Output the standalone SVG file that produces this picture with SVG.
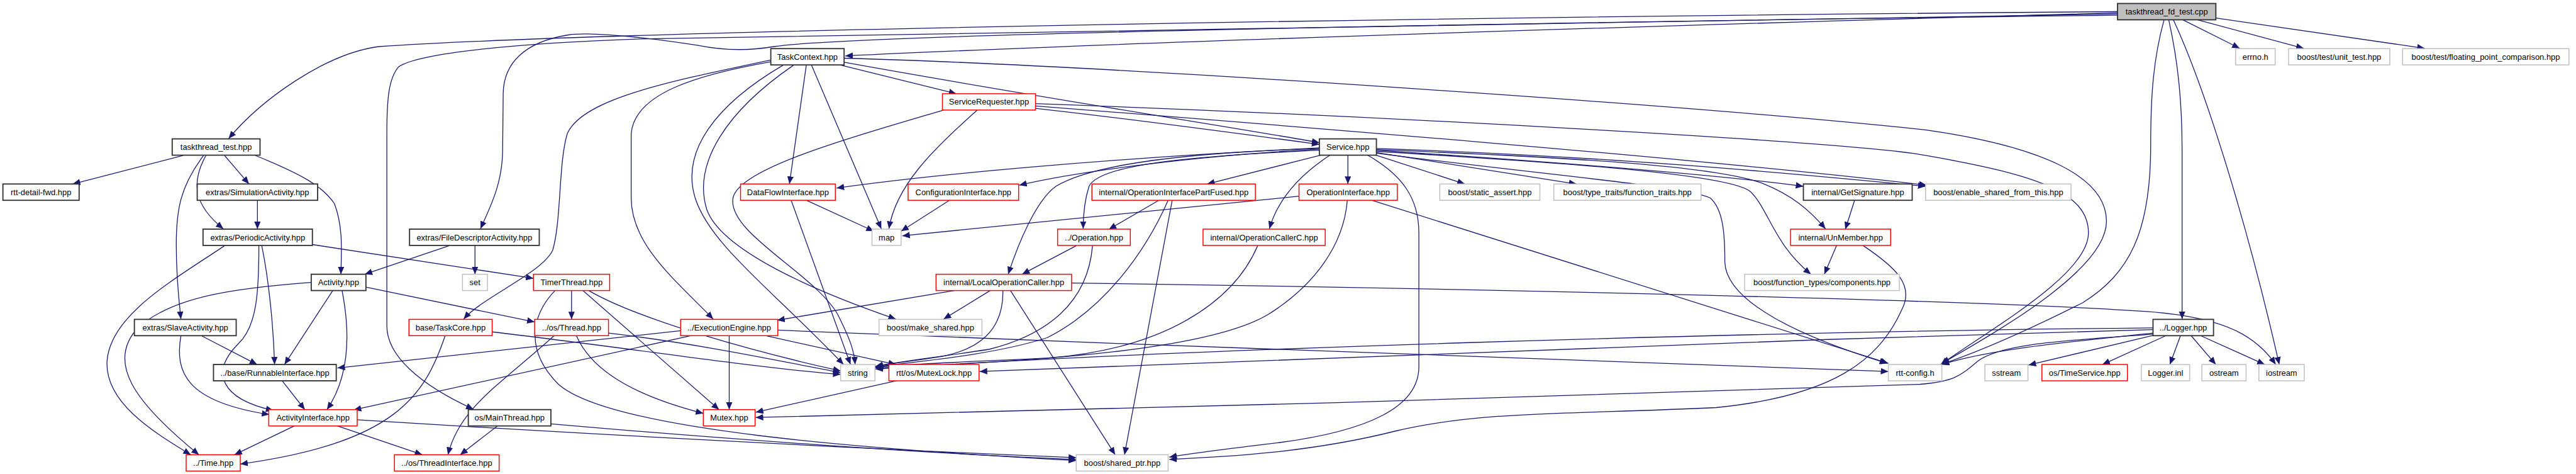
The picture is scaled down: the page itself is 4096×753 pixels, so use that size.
<svg xmlns="http://www.w3.org/2000/svg" width="4096" height="753" viewBox="0 0 4096 753">
<defs>
<style>
.node rect{fill:#fff;stroke-width:1.6}
.k rect{stroke:#333;stroke-width:2}
.r rect{stroke:#f00}
.g rect{stroke:#bfbfbf}
.root rect{fill:#bfbfbf;stroke:#333;stroke-width:2}
text{font-family:"Liberation Sans",Arial,sans-serif;font-size:14px;text-anchor:middle;fill:#000}
#edges path{fill:none;stroke:#191970;stroke-width:1.4;marker-end:url(#a)}
</style>
<marker id="a" markerWidth="14" markerHeight="12" refX="13" refY="5.5" orient="auto" markerUnits="userSpaceOnUse"><path d="M0,0 L13,5.5 L0,11 z" fill="#191970" stroke="none"/></marker>
</defs>
<rect width="4096" height="753" fill="#fff"/>
<g transform="scale(0.925)">
<g id="edges">
<path d="M3752,34 L3850,83"/>
<path d="M3777,34 L3960,83"/>
<path d="M3809,31 L4168,83"/>
<path d="M3640,22 C3000,40 2000,70 1453,96"/>
<path d="M3640,20 C2600,28 1100,50 651,80 C560,92 450,170 393,238"/>
<path d="M3640,24 C2800,40 1300,60 1100,67 C900,74 720,90 685,115 C668,135 665,170 665,230 L665,560 C665,610 720,660 814,703"/>
<path d="M3640,26 C3000,34 1500,55 1330,80 C1290,87 1250,88 1200,78 C1100,62 1010,55 977,60 C900,72 866,110 865,160 L864,260 C863,320 840,360 826,393"/>
<path d="M3728,34 C3745,110 3751,180 3751,260 L3751,548"/>
<path d="M3736,34 C3790,150 3862,380 3918,626"/>
<path d="M3720,34 C3702,100 3697,160 3697,250 C3697,400 3660,470 3580,520 C3480,570 3400,605 3336,626"/>
<path d="M1451,107 C1800,170 2100,215 2268,245"/>
<path d="M1446,112 L1644,161"/>
<path d="M1451,100 C1900,112 2900,180 3310,223 C3500,250 3621,300 3621,380 C3621,460 3450,560 3338,624"/>
<path d="M1386,112 L1357,316"/>
<path d="M1395,112 L1515,393"/>
<path d="M1346,112 C1230,180 1170,260 1195,340 C1220,420 1330,500 1450,626"/>
<path d="M1364,112 C1250,190 1190,280 1215,360 C1240,430 1400,500 1540,548"/>
<path d="M1325,106 C1200,128 1090,160 1085,230 L1085,340 C1085,420 1160,480 1226,548"/>
<path d="M1325,103 C1150,140 1000,170 975,230 C960,280 965,380 950,430 C930,470 830,510 797,548"/>
<path d="M2268,254 C1900,272 1600,300 1438,323"/>
<path d="M2268,256 C2050,268 1850,295 1752,318"/>
<path d="M2272,266 L2075,316"/>
<path d="M2268,258 C2050,268 1890,282 1872,320 C1864,345 1862,370 1862,393"/>
<path d="M2268,255 C2050,262 1880,280 1815,320 C1780,345 1750,420 1733,471"/>
<path d="M2317,266.5 L2317,316"/>
<path d="M2287,266 C2250,290 2200,330 2182,393"/>
<path d="M2350,266 C2410,300 2439,340 2439,400 L2439,630 C2439,700 2350,740 2200,760 C2100,772 2050,778 2010,785"/>
<path d="M2364,266 L2518,316"/>
<path d="M2366,262 L2710,316"/>
<path d="M2366,258 C2700,280 2950,300 3100,320"/>
<path d="M2366,255 C2800,270 3100,300 3310,320"/>
<path d="M2366,257 C2700,270 2950,285 3030,315 C3080,335 3110,360 3138,393"/>
<path d="M2366,260 C2700,280 2980,300 3010,330 C3040,360 3050,420 3113,471"/>
<path d="M2366,263 C2650,300 2900,320 2940,340 C2962,360 2965,400 2965,450 C2967,520 3100,580 3244,624"/>
<path d="M1780,186 C1950,205 2150,232 2268,248"/>
<path d="M1780,182 C2200,215 2900,270 3312,318"/>
<path d="M1780,178 C2400,200 3200,245 3310,267 C3500,300 3590,330 3590,400 C3590,470 3430,560 3336,626"/>
<path d="M1680,189 C1600,260 1540,320 1528,393"/>
<path d="M1622,189 C1450,240 1270,290 1260,340 C1250,400 1400,470 1440,540 C1460,580 1468,600 1470,626"/>
<path d="M1386,344 L1502,397"/>
<path d="M1360,344 L1462,626"/>
<path d="M1632,344 L1549,397"/>
<path d="M1992,344 L1906,394"/>
<path d="M2008,344 C1970,430 1900,530 1800,580 C1700,612 1560,622 1505,630"/>
<path d="M2015,344 L1933,781"/>
<path d="M1850,422 L1757,471"/>
<path d="M1878,422 C1870,520 1800,575 1700,600 C1600,615 1540,622 1505,629"/>
<path d="M1640,499 L1336,550"/>
<path d="M1702,499 L1622,548"/>
<path d="M1724,499 C1725,570 1680,600 1620,612 C1570,620 1530,624 1505,630"/>
<path d="M1737,499 L1917,781"/>
<path d="M1842,486 C2500,495 3400,515 3690,535 C3830,545 3880,580 3912,626"/>
<path d="M2162,422 C2120,520 2000,600 1800,615 C1650,622 1540,626 1505,631"/>
<path d="M2233,337 L1551,405"/>
<path d="M2316,344 C2310,420 2260,490 2180,540 C2080,600 1800,620 1505,632"/>
<path d="M2358,344 L3246,624"/>
<path d="M3188,344 L3172,394"/>
<path d="M3157,422 L3136,471"/>
<path d="M3203,422 C3260,460 3290,490 3270,530 C3230,620 3150,680 2950,700 C2700,712 2550,705 2400,740 C2250,778 2100,785 2010,789"/>
<path d="M1170,568 L580,632"/>
<path d="M1186,577 L608,704"/>
<path d="M1253.5,576.5 L1253.5,703.5"/>
<path d="M1318,577 L1540,626"/>
<path d="M1337,567 C2000,595 2800,620 3246,638"/>
<path d="M1541,654 L1299,708"/>
<path d="M3701,563 C3000,570 2000,600 1505,634"/>
<path d="M3701,566 C3000,585 2200,617 1684,638"/>
<path d="M3701,574 C3550,585 3440,590 3400,620 C3370,645 3360,655 3300,660 C2800,680 1800,705 1299,717"/>
<path d="M3701,572 C3550,588 3420,600 3338,626"/>
<path d="M3701,576 L3487,627"/>
<path d="M3722,577 L3614,626"/>
<path d="M3748,577 L3730,626"/>
<path d="M3767,577 L3809,626"/>
<path d="M3784,577 L3893,626"/>
<path d="M315,267 L125,316"/>
<path d="M386,267 L428,316"/>
<path d="M354,267 C330,310 330,350 384,393"/>
<path d="M350,267 C310,320 303,360 303,420 C303,480 308,520 311,548"/>
<path d="M439,267 C520,300 555,320 575,350 C590,390 587,430 586,471"/>
<path d="M442.5,344 L442.5,393.5"/>
<path d="M537,420 L917,478"/>
<path d="M450,422 C462,480 470,560 472,626"/>
<path d="M445,422 C445,500 442,560 410,590 C360,640 380,685 470,705"/>
<path d="M386,422 C300,480 190,540 184,620 C180,690 260,740 328,781"/>
<path d="M772,422 L627,471"/>
<path d="M816.5,421.5 L816.5,471"/>
<path d="M629,493 L919,553"/>
<path d="M572,499 L489,626"/>
<path d="M588,499 C600,560 605,640 562,703.5"/>
<path d="M535,485 C400,495 300,510 240,560 C180,620 230,690 342,781"/>
<path d="M347,577 L442,626"/>
<path d="M311,577 C300,640 320,690 463,712"/>
<path d="M765,577 C730,680 680,760 413,797"/>
<path d="M846,570 C1100,600 1300,632 1445,643"/>
<path d="M982.5,499 L982.5,548.5"/>
<path d="M954,499 C915,540 900,600 960,660 C1050,740 1500,772 1850,791"/>
<path d="M1002,499 L1236,703.5"/>
<path d="M1012,499 C1100,550 1300,605 1445,637"/>
<path d="M952,577 C860,660 790,700 770,781"/>
<path d="M991,577 C1010,620 1060,672 1209,710"/>
<path d="M1046,572 C1200,590 1350,622 1445,640"/>
<path d="M485,654 L524,703.5"/>
<path d="M506,731.5 L403,781"/>
<path d="M580,731.5 L726,781"/>
<path d="M614,721 C1000,745 1500,772 1850,786"/>
<path d="M855,731.5 L791,781"/>
<path d="M947,728 C1200,750 1600,780 1850,789"/>
</g>
<g id="n-tfd" class="node root"><rect x="3640" y="6" width="169" height="28"/><text x="3724.5" y="25">taskthread_fd_test.cpp</text></g>
<g id="n-tc" class="node k"><rect x="1325" y="83.5" width="126" height="28"/><text x="1388" y="102.5">TaskContext.hpp</text></g>
<g id="n-errno" class="node g"><rect x="3843" y="83.5" width="68" height="28"/><text x="3877" y="102.5">errno.h</text></g>
<g id="n-unittest" class="node g"><rect x="3934" y="83.5" width="174" height="28"/><text x="4021" y="102.5">boost/test/unit_test.hpp</text></g>
<g id="n-fpc" class="node g"><rect x="4130" y="83.5" width="286" height="28"/><text x="4273" y="102.5">boost/test/floating_point_comparison.hpp</text></g>
<g id="n-sreq" class="node r"><rect x="1620" y="161" width="160" height="28"/><text x="1700" y="180">ServiceRequester.hpp</text></g>
<g id="n-tt" class="node k"><rect x="296" y="238.5" width="151" height="28"/><text x="371.5" y="257.5">taskthread_test.hpp</text></g>
<g id="n-svc" class="node k"><rect x="2268" y="238.5" width="98" height="28"/><text x="2317" y="257.5">Service.hpp</text></g>
<g id="n-rttfwd" class="node k"><rect x="5" y="316" width="131" height="28"/><text x="70.5" y="335">rtt-detail-fwd.hpp</text></g>
<g id="n-sim" class="node k"><rect x="339" y="316" width="207" height="28"/><text x="442.5" y="335">extras/SimulationActivity.hpp</text></g>
<g id="n-dfi" class="node r"><rect x="1273" y="316" width="163" height="28"/><text x="1354.5" y="335">DataFlowInterface.hpp</text></g>
<g id="n-cfg" class="node r"><rect x="1561" y="316" width="190" height="28"/><text x="1656" y="335">ConfigurationInterface.hpp</text></g>
<g id="n-oipf" class="node r"><rect x="1877" y="316" width="281" height="28"/><text x="2017.5" y="335">internal/OperationInterfacePartFused.hpp</text></g>
<g id="n-oi" class="node r"><rect x="2233" y="316" width="169" height="28"/><text x="2317.5" y="335">OperationInterface.hpp</text></g>
<g id="n-sa" class="node g"><rect x="2475" y="316" width="172" height="28"/><text x="2561" y="335">boost/static_assert.hpp</text></g>
<g id="n-ft" class="node g"><rect x="2671" y="316" width="253" height="28"/><text x="2797.5" y="335">boost/type_traits/function_traits.hpp</text></g>
<g id="n-gs" class="node k"><rect x="3100" y="316" width="187" height="28"/><text x="3193.5" y="335">internal/GetSignature.hpp</text></g>
<g id="n-esft" class="node g"><rect x="3310" y="316" width="250" height="28"/><text x="3435" y="335">boost/enable_shared_from_this.hpp</text></g>
<g id="n-per" class="node k"><rect x="349" y="393.5" width="188" height="28"/><text x="443" y="412.5">extras/PeriodicActivity.hpp</text></g>
<g id="n-fda" class="node k"><rect x="704" y="393.5" width="223" height="28"/><text x="815.5" y="412.5">extras/FileDescriptorActivity.hpp</text></g>
<g id="n-map" class="node g"><rect x="1499" y="393.5" width="50" height="28"/><text x="1524" y="412.5">map</text></g>
<g id="n-op" class="node r"><rect x="1818" y="393.5" width="125" height="28"/><text x="1880.5" y="412.5">../Operation.hpp</text></g>
<g id="n-occ" class="node r"><rect x="2068" y="393.5" width="210" height="28"/><text x="2173" y="412.5">internal/OperationCallerC.hpp</text></g>
<g id="n-unm" class="node r"><rect x="3078" y="393.5" width="172" height="28"/><text x="3164" y="412.5">internal/UnMember.hpp</text></g>
<g id="n-act" class="node k"><rect x="535" y="471" width="94" height="28"/><text x="582" y="490">Activity.hpp</text></g>
<g id="n-set" class="node g"><rect x="795" y="471" width="43" height="28"/><text x="816.5" y="490">set</text></g>
<g id="n-tmr" class="node r"><rect x="917" y="471" width="131" height="28"/><text x="982.5" y="490">TimerThread.hpp</text></g>
<g id="n-loc" class="node r"><rect x="1609" y="471" width="233" height="28"/><text x="1725.5" y="490">internal/LocalOperationCaller.hpp</text></g>
<g id="n-fcomp" class="node g"><rect x="2999" y="471" width="266" height="28"/><text x="3132" y="490">boost/function_types/components.hpp</text></g>
<g id="n-slave" class="node k"><rect x="231" y="548.5" width="175" height="28"/><text x="318.5" y="567.5">extras/SlaveActivity.hpp</text></g>
<g id="n-tcore" class="node r"><rect x="703" y="548.5" width="143" height="28"/><text x="774.5" y="567.5">base/TaskCore.hpp</text></g>
<g id="n-thr" class="node r"><rect x="919" y="548.5" width="127" height="28"/><text x="982.5" y="567.5">../os/Thread.hpp</text></g>
<g id="n-ee" class="node r"><rect x="1170" y="548.5" width="167" height="28"/><text x="1253.5" y="567.5">../ExecutionEngine.hpp</text></g>
<g id="n-mks" class="node g"><rect x="1511" y="548.5" width="177" height="28"/><text x="1599.5" y="567.5">boost/make_shared.hpp</text></g>
<g id="n-log" class="node k"><rect x="3701" y="548.5" width="104" height="28"/><text x="3753" y="567.5">../Logger.hpp</text></g>
<g id="n-run" class="node k"><rect x="367" y="626" width="211" height="28"/><text x="472.5" y="645">../base/RunnableInterface.hpp</text></g>
<g id="n-str" class="node g"><rect x="1445" y="626" width="59" height="28"/><text x="1474.5" y="645">string</text></g>
<g id="n-mlock" class="node r"><rect x="1528" y="626" width="155" height="28"/><text x="1605.5" y="645">rtt/os/MutexLock.hpp</text></g>
<g id="n-cfgh" class="node g"><rect x="3246" y="626" width="92" height="28"/><text x="3292" y="645">rtt-config.h</text></g>
<g id="n-sstream" class="node g"><rect x="3412" y="626" width="74" height="28"/><text x="3449" y="645">sstream</text></g>
<g id="n-tsvc" class="node r"><rect x="3510" y="626" width="147" height="28"/><text x="3583.5" y="645">os/TimeService.hpp</text></g>
<g id="n-inl" class="node g"><rect x="3681" y="626" width="83" height="28"/><text x="3722.5" y="645">Logger.inl</text></g>
<g id="n-ostream" class="node g"><rect x="3785" y="626" width="76" height="28"/><text x="3823" y="645">ostream</text></g>
<g id="n-iostream" class="node g"><rect x="3883" y="626" width="78" height="28"/><text x="3922" y="645">iostream</text></g>
<g id="n-ai" class="node r"><rect x="462" y="703.5" width="152" height="28"/><text x="538" y="722.5">ActivityInterface.hpp</text></g>
<g id="n-main" class="node k"><rect x="805" y="703.5" width="142" height="28"/><text x="876" y="722.5">os/MainThread.hpp</text></g>
<g id="n-mutex" class="node r"><rect x="1209" y="703.5" width="89" height="28"/><text x="1253.5" y="722.5">Mutex.hpp</text></g>
<g id="n-time" class="node r"><rect x="320" y="781" width="93" height="28"/><text x="366.5" y="800">../Time.hpp</text></g>
<g id="n-ti" class="node r"><rect x="678" y="781" width="180" height="28"/><text x="768" y="800">../os/ThreadInterface.hpp</text></g>
<g id="n-sp" class="node g"><rect x="1850" y="781" width="158" height="28"/><text x="1929" y="800">boost/shared_ptr.hpp</text></g>
</g>
</svg>
